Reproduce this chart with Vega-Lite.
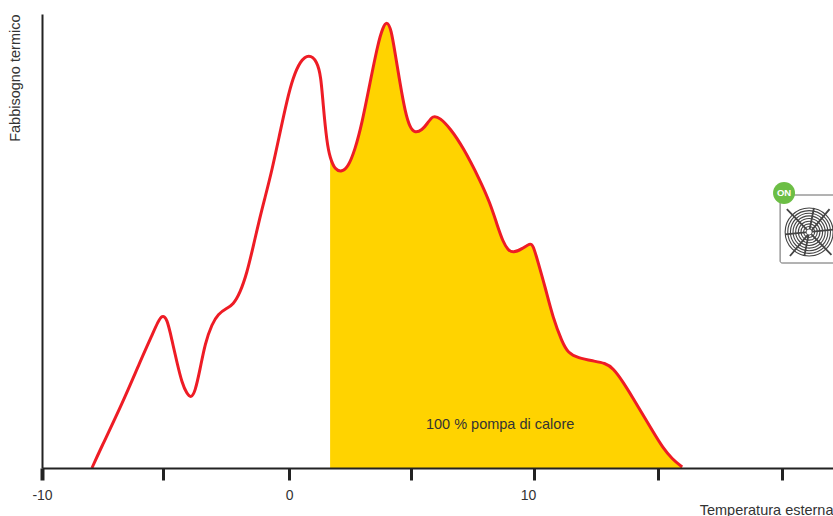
{
"$schema":"https://vega.github.io/schema/vega-lite/v6.json",
"width":791,"height":454,
"autosize":{"type":"none"},
"padding":{"left":42,"top":14,"right":0,"bottom":48},
"background":"white",
"config":{"view":{"stroke":null},"font":"Liberation Sans"},
"datasets":{"curve":[
{"t":-8.01,"f":0},{"t":-7.68,"f":18},{"t":-6.75,"f":66},{"t":-6.06,"f":106},{"t":-5.53,"f":135},{"t":-5.33,"f":146},{"t":-5.16,"f":153},{"t":-4.96,"f":150},{"t":-4.76,"f":128},{"t":-4.55,"f":105},{"t":-4.35,"f":85},{"t":-4.15,"f":74},{"t":-3.98,"f":70},{"t":-3.82,"f":76},{"t":-3.62,"f":98},{"t":-3.41,"f":125},{"t":-3.13,"f":144},{"t":-2.89,"f":154},{"t":-2.52,"f":160},{"t":-2.28,"f":163},{"t":-1.99,"f":175},{"t":-1.71,"f":195},{"t":-1.46,"f":221},{"t":-1.18,"f":251},{"t":-0.98,"f":270},{"t":-0.69,"f":298},{"t":-0.37,"f":335},{"t":-0.08,"f":368},{"t":0.16,"f":390},{"t":0.45,"f":407},{"t":0.81,"f":414},{"t":1.14,"f":407},{"t":1.30,"f":391},{"t":1.38,"f":365},{"t":1.54,"f":325},{"t":1.67,"f":310},{"t":1.87,"f":298},{"t":2.15,"f":296},{"t":2.40,"f":301},{"t":2.68,"f":318},{"t":2.97,"f":345},{"t":3.29,"f":385},{"t":3.62,"f":425},{"t":3.82,"f":441},{"t":3.98,"f":447},{"t":4.15,"f":439},{"t":4.31,"f":415},{"t":4.51,"f":385},{"t":4.72,"f":356},{"t":4.92,"f":340},{"t":5.12,"f":335},{"t":5.41,"f":338},{"t":5.61,"f":344},{"t":5.85,"f":353},{"t":6.14,"f":350},{"t":6.54,"f":340},{"t":7.07,"f":321},{"t":7.76,"f":288},{"t":8.17,"f":265},{"t":8.46,"f":243},{"t":8.70,"f":226},{"t":8.90,"f":218},{"t":9.11,"f":215},{"t":9.47,"f":219},{"t":9.80,"f":225},{"t":9.92,"f":223},{"t":10.12,"f":206},{"t":10.41,"f":181},{"t":10.73,"f":150},{"t":11.10,"f":126},{"t":11.34,"f":115},{"t":11.75,"f":110},{"t":12.36,"f":107},{"t":12.85,"f":105},{"t":13.17,"f":100},{"t":13.58,"f":86},{"t":13.98,"f":70},{"t":14.39,"f":53},{"t":14.80,"f":36},{"t":15.20,"f":20},{"t":15.57,"f":9},{"t":15.98,"f":1}
]},
"layer":[
{"data":{"name":"curve"},"transform":[{"filter":"datum.t >= 1.67"}],
 "mark":{"type":"area","interpolate":"basis","color":"#FFD300"},
 "encoding":{
  "x":{"field":"t","type":"quantitative","scale":{"domain":[-10.04,22.11],"nice":false,"zero":false},
   "axis":{"values":[-10.04,-5.12,0,4.96,9.96,15,20.04],
    "labelExpr":"datum.value==-10.04?'-10':datum.value==0?'0':datum.value==9.96?'10':''",
    "grid":false,"zindex":1,"domainColor":"#222222","domainWidth":2,"tickColor":"#222222","tickWidth":{"condition":{"test":"datum.value==-10.04","value":4},"value":3},"tickSize":12,
    "labelFont":"Liberation Sans","labelFontSize":14,"labelColor":"#333333","labelPadding":8,"labelFlush":false,"labelOverlap":false,
    "labelOffset":{"condition":{"test":"datum.value==9.96","value":-6},"value":0},
    "title":"Temperatura esterna","titleFont":"Liberation Sans","titleFontSize":14.5,"titleFontWeight":"normal","titleColor":"#333333",
    "titleAnchor":"end","titleAlign":"right","titleBaseline":"middle","titleX":791,"titleY":42}},
  "y":{"field":"f","type":"quantitative","scale":{"domain":[0,454],"nice":false},
   "axis":{"grid":false,"ticks":false,"labels":false,"zindex":1,"domainColor":"#222222","domainWidth":2,
    "title":"Fabbisogno termico","titleFont":"Liberation Sans","titleFontSize":14.5,"titleFontWeight":"normal","titleColor":"#333333",
    "titleAngle":-90,"titleAlign":"right","titleBaseline":"middle","titleX":-27,"titleY":0}}
 }},
{"data":{"name":"curve"},
 "mark":{"type":"line","interpolate":"basis","color":"#EE1C25","strokeWidth":3},
 "encoding":{"x":{"field":"t","type":"quantitative"},"y":{"field":"f","type":"quantitative"}}},
{"data":{"values":[{"t":8.58,"f":43,"label":"100 % pompa di calore"}]},
 "mark":{"type":"text","font":"Liberation Sans","fontSize":14.5,"color":"#333333"},
 "encoding":{"x":{"field":"t","type":"quantitative"},"y":{"field":"f","type":"quantitative"},"text":{"field":"label"}}},
{"data":{"values":[{"t":19.96,"t2":22.4,"f":273,"f2":205}]},
 "mark":{"type":"rect","fill":"white","stroke":"#666666","strokeWidth":1,"cornerRadius":2},
 "encoding":{"x":{"field":"t","type":"quantitative"},"x2":{"field":"t2"},"y":{"field":"f","type":"quantitative"},"y2":{"field":"f2"}}},
{"data":{"values":[{"t":21.14,"f":236}]},
 "mark":{"type":"point","filled":false,"opacity":1,"stroke":"#444444","strokeWidth":1.1,"size":2304,
  "shape":"M1 0A1 1 0 1 1 -1 0A1 1 0 1 1 1 0M0.89 0A0.89 0.89 0 1 1 -0.89 0A0.89 0.89 0 1 1 0.89 0M0.78 0A0.78 0.78 0 1 1 -0.78 0A0.78 0.78 0 1 1 0.78 0M0.67 0A0.67 0.67 0 1 1 -0.67 0A0.67 0.67 0 1 1 0.67 0M0.56 0A0.56 0.56 0 1 1 -0.56 0A0.56 0.56 0 1 1 0.56 0M0.45 0A0.45 0.45 0 1 1 -0.45 0A0.45 0.45 0 1 1 0.45 0M0.34 0A0.34 0.34 0 1 1 -0.34 0A0.34 0.34 0 1 1 0.34 0M0.23 0A0.23 0.23 0 1 1 -0.23 0A0.23 0.23 0 1 1 0.23 0"},
 "encoding":{"x":{"field":"t","type":"quantitative"},"y":{"field":"f","type":"quantitative"}}},
{"data":{"values":[{"t":21.14,"f":236}]},
 "mark":{"type":"point","filled":false,"opacity":1,"stroke":"#444444","strokeWidth":1.8,"size":2304,
  "shape":"M-0.93 -0.95L0.93 0.95M-0.8 1L0.85 -0.95M0.2 -1L-0.2 1M-1 0.1L1 -0.1"},
 "encoding":{"x":{"field":"t","type":"quantitative"},"y":{"field":"f","type":"quantitative"}}},
{"data":{"values":[{"t":21.14,"f":236}]},
 "mark":{"type":"point","filled":true,"opacity":1,"fill":"white","stroke":"#444444","strokeWidth":0.8,"size":36,"shape":"circle"},
 "encoding":{"x":{"field":"t","type":"quantitative"},"y":{"field":"f","type":"quantitative"}}},
{"data":{"values":[{"t":20.12,"f":275}]},
 "mark":{"type":"point","filled":true,"opacity":1,"fill":"#6CBE45","stroke":null,"size":484,"shape":"circle"},
 "encoding":{"x":{"field":"t","type":"quantitative"},"y":{"field":"f","type":"quantitative"}}},
{"data":{"values":[{"t":20.12,"f":275,"label":"ON"}]},
 "mark":{"type":"text","font":"Liberation Sans","fontSize":9.5,"fontWeight":"bold","color":"white"},
 "encoding":{"x":{"field":"t","type":"quantitative"},"y":{"field":"f","type":"quantitative"},"text":{"field":"label"}}}
]}
